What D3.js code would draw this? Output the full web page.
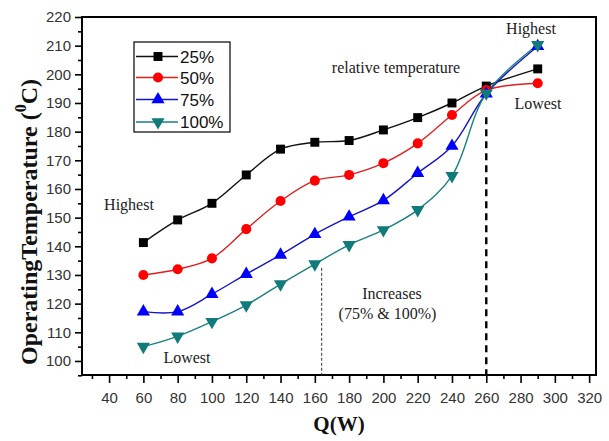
<!DOCTYPE html>
<html>
<head>
<meta charset="utf-8">
<script src="https://cdn.jsdelivr.net/npm/d3@7"></script>
<style>
  html, body { margin: 0; padding: 0; background: #fff; }
  svg { display: block; }
</style>
</head>
<body>
<svg id="chart" width="609" height="441"></svg>
<script>
// Heat input (W) at each measurement
const power = [60, 80, 100, 120, 140, 160, 180, 200, 220, 240, 260, 290];

// Operating temperature (°C) for each fill ratio
const fill25  = [141.3, 149.2, 155.0, 164.9, 173.9, 176.3, 176.9, 180.6, 184.9, 190.0, 195.9, 201.9];
const fill50  = [130.0, 132.0, 135.8, 146.0, 155.8, 162.9, 164.9, 169.0, 175.9, 185.8, 194.5, 196.9];
const fill75  = [117.2, 117.2, 123.3, 130.3, 137.0, 144.2, 150.3, 156.0, 165.5, 175.0, 193.2, 209.8];
const fill100 = [105.0, 108.6, 113.7, 119.5, 126.8, 133.8, 140.5, 145.7, 152.7, 164.6, 193.4, 210.3];

const seriesNames = ["25%", "50%", "75%", "100%"];

// Axis ticks
const xMajorTicks = [40, 60, 80, 100, 120, 140, 160, 180, 200, 220, 240, 260, 280, 300, 320];
const xMinorTicks = [30, 50, 70, 90, 110, 130, 150, 170, 190, 210, 230, 250, 270, 290, 310];
const yMajorTicks = [100, 110, 120, 130, 140, 150, 160, 170, 180, 190, 200, 210, 220];
const yMinorTicks = [95, 105, 115, 125, 135, 145, 155, 165, 175, 185, 195, 205, 215];

const series = [
  { name: seriesNames[0], values: fill25,  line: "#111111", fill: "#000000", symbol: d3.symbolSquare,   rot: 0,   size: 80 },
  { name: seriesNames[1], values: fill50,  line: "#e02020", fill: "#ff0000", symbol: d3.symbolCircle,   rot: 0,   size: 80 },
  { name: seriesNames[2], values: fill75,  line: "#1515c8", fill: "#0000ff", symbol: d3.symbolTriangle, rot: 0,   size: 75 },
  { name: seriesNames[3], values: fill100, line: "#1b8080", fill: "#117a7a", symbol: d3.symbolTriangle, rot: 180, size: 75 }
];

const svg = d3.select("#chart");
const plotL = 82, plotR = 596, plotT = 17, plotB = 375;

const x = d3.scaleLinear().domain([24.2, 324]).range([plotL, plotR]);
const y = d3.scaleLinear().domain([95.1, 220]).range([plotB, plotT]);

const tickFont = "'Liberation Sans', Arial, sans-serif";
const serif = "'Liberation Serif', 'Times New Roman', serif";

// Bottom axis: major + minor ticks
svg.append("g").attr("transform", `translate(0,${plotB})`)
  .call(d3.axisBottom(x).tickValues(xMajorTicks).tickSize(8).tickPadding(9).tickSizeOuter(0));
svg.append("g").attr("transform", `translate(0,${plotB})`)
  .call(d3.axisBottom(x).tickValues(xMinorTicks).tickSize(4).tickFormat("").tickSizeOuter(0));

// Left axis: major + minor ticks
svg.append("g").attr("transform", `translate(${plotL},0)`)
  .call(d3.axisLeft(y).tickValues(yMajorTicks).tickSize(7).tickPadding(4).tickSizeOuter(0));
svg.append("g").attr("transform", `translate(${plotL},0)`)
  .call(d3.axisLeft(y).tickValues(yMinorTicks).tickSize(4).tickFormat("").tickSizeOuter(0));

svg.selectAll(".domain").remove();
svg.selectAll(".tick line").attr("stroke", "#000").attr("stroke-width", 1.6);
svg.selectAll(".tick text")
  .attr("font-family", tickFont).attr("font-size", 15).attr("fill", "#333");

// Plot frame
svg.append("rect")
  .attr("x", plotL).attr("y", plotT)
  .attr("width", plotR - plotL).attr("height", plotB - plotT)
  .attr("fill", "none").attr("stroke", "#000").attr("stroke-width", 2);

// Reference markers: thin dotted at ~164 W, heavy dashed at 260 W
svg.append("line")
  .attr("x1", x(164)).attr("x2", x(164))
  .attr("y1", y(132.5)).attr("y2", plotB)
  .attr("stroke", "#333").attr("stroke-width", 1).attr("stroke-dasharray", "3,2");
svg.append("line")
  .attr("x1", x(260)).attr("x2", x(260))
  .attr("y1", y(185)).attr("y2", plotB)
  .attr("stroke", "#000").attr("stroke-width", 2.4).attr("stroke-dasharray", "7,5");

// Series curves and markers
const line = d3.line()
  .x((d, i) => x(power[i]))
  .y(d => y(d))
  .curve(d3.curveCatmullRom.alpha(0.5));

series.forEach(s => {
  svg.append("path")
    .attr("d", line(s.values))
    .attr("fill", "none")
    .attr("stroke", s.line)
    .attr("stroke-width", 1.4);
});
series.forEach(s => {
  svg.append("g").selectAll("path")
    .data(s.values)
    .join("path")
    .attr("d", d3.symbol().type(s.symbol).size(s.size))
    .attr("transform", (d, i) => `translate(${x(power[i])},${y(d)}) rotate(${s.rot})`)
    .attr("fill", s.fill);
});

// Legend
const lg = svg.append("g");
lg.append("rect")
  .attr("x", 134).attr("y", 42).attr("width", 96).attr("height", 90)
  .attr("fill", "#fff").attr("stroke", "#000").attr("stroke-width", 1.2);
const rowY = [56.5, 77.5, 99.5, 122];
series.forEach((s, i) => {
  const r = lg.append("g").attr("transform", `translate(0,${rowY[i]})`);
  r.append("line").attr("x1", 136).attr("x2", 178).attr("y1", 0).attr("y2", 0)
    .attr("stroke", s.line).attr("stroke-width", 1.6);
  r.append("path").attr("d", d3.symbol().type(s.symbol).size(s.size))
    .attr("transform", `translate(158,0) rotate(${s.rot})`).attr("fill", s.fill);
  r.append("text").attr("x", 180).attr("y", 6)
    .attr("font-family", tickFont).attr("font-size", 17).attr("fill", "#111")
    .text(s.name);
});

// Annotations
const notes = [
  { t: "Highest", x: 129, y: 210 },
  { t: "Lowest", x: 187, y: 363 },
  { t: "relative temperature", x: 396, y: 73 },
  { t: "Highest", x: 531, y: 34 },
  { t: "Lowest", x: 538, y: 109 },
  { t: "Increases", x: 392, y: 299 },
  { t: "(75% & 100%)", x: 387.5, y: 319 }
];
svg.append("g").selectAll("text").data(notes).join("text")
  .attr("x", d => d.x).attr("y", d => d.y)
  .attr("text-anchor", "middle")
  .attr("font-family", serif).attr("font-size", 16).attr("fill", "#222")
  .text(d => d.t);

// Axis titles
svg.append("text")
  .attr("x", (plotL + plotR) / 2).attr("y", 431)
  .attr("text-anchor", "middle")
  .attr("font-family", serif).attr("font-size", 21).attr("font-weight", "bold")
  .attr("fill", "#111")
  .text("Q(W)");

const yt = svg.append("text")
  .attr("transform", `translate(37,222) rotate(-90)`)
  .attr("text-anchor", "middle")
  .attr("font-family", serif).attr("font-size", 24).attr("font-weight", "bold")
  .attr("fill", "#111");
yt.append("tspan").text("OperatingTemperature (");
yt.append("tspan").attr("font-size", 16).attr("dy", -11).text("0");
yt.append("tspan").attr("dy", 11).text("C)");
</script>
</body>
</html>
